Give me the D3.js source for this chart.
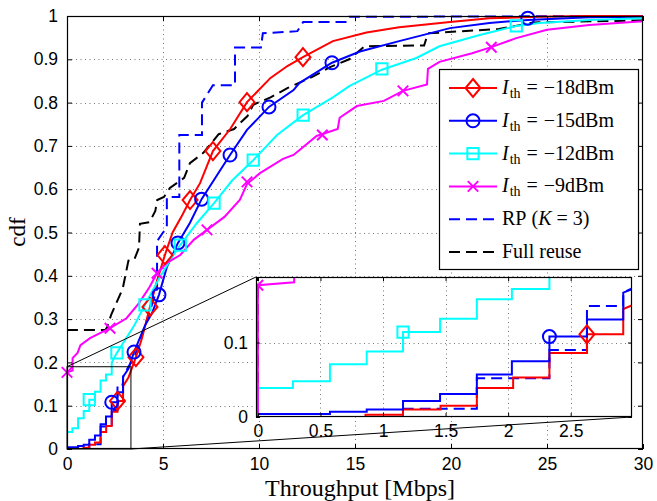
<!DOCTYPE html>
<html><head><meta charset="utf-8">
<script src="https://cdn.jsdelivr.net/npm/d3@7"></script>
<style>
body{margin:0;background:#fff}
text{fill:#000}
</style>
</head><body>
<svg id="c" width="657" height="501"></svg>
<script>
// ---------------- data ----------------
const xTicks = [0, 5, 10, 15, 20, 25, 30];
const xTickLabels = ["0", "5", "10", "15", "20", "25", "30"];
const yTicks = [0, 0.1, 0.2, 0.3, 0.4, 0.5, 0.6, 0.7, 0.8, 0.9, 1];
const yTickLabels = ["0", "0.1", "0.2", "0.3", "0.4", "0.5", "0.6", "0.7", "0.8", "0.9", "1"];
const insetXTicks = [0, 0.5, 1, 1.5, 2, 2.5];
const insetXTickLabels = ["0", "0.5", "1", "1.5", "2", "2.5"];
const insetYTicks = [0, 0.1];
const insetYTickLabels = ["0", "0.1"];
const zoomBoxX = [0, 3.33];
const zoomBoxY = [0, 0.19];

// Ith = -18 dBm
const thrRed = [0,0.86,0.86,1.16,1.16,1.46,1.46,1.75,1.75,2.04,2.04,2.33,2.33,2.63,2.63,2.92,2.92,3.2,3.59,3.9,4.32,4.7,5.1,5.5,6.0,6.41,6.93,7.6,8.5,9.375,9.9,10.6,11.5,12.29,13.85,15.6,17.3,19.95,22,24.6,27,30];
const cdfRed = [0,0,0.003,0.003,0.010,0.010,0.015,0.015,0.039,0.039,0.053,0.053,0.086,0.086,0.111,0.111,0.145,0.165,0.212,0.255,0.328,0.39,0.448,0.50,0.54,0.575,0.614,0.688,0.739,0.801,0.825,0.857,0.885,0.905,0.942,0.962,0.974,0.986,0.995,0.998,1,1];
const mkRedX = [2.63, 3.59, 4.32, 5.10, 6.41, 7.60, 9.375, 12.29];
const mkRedY = [0.111, 0.212, 0.328, 0.448, 0.575, 0.688, 0.801, 0.905];

// Ith = -15 dBm
const thrBlue = [0,0,0.576,0.576,0.87,0.87,1.16,1.16,1.456,1.456,1.75,1.75,2.03,2.03,2.33,2.33,2.63,2.63,2.92,2.92,3.2,3.49,4.06,4.43,4.79,5.2,5.78,6.4,7.01,8.49,9.375,10.52,11.8,12.1,13.8,15.26,17.3,19.95,22,24,27.2,30];
const cdfBlue = [0,0.004,0.004,0.007,0.007,0.010,0.010,0.0215,0.0215,0.031,0.031,0.057,0.057,0.075,0.075,0.108,0.108,0.131,0.131,0.167,0.185,0.224,0.285,0.314,0.356,0.42,0.476,0.522,0.577,0.679,0.737,0.79,0.829,0.845,0.892,0.918,0.942,0.972,0.984,0.991,0.997,0.998];
const mkBlueX = [2.33, 3.49, 4.79, 5.78, 7.01, 8.49, 10.52, 13.8, 24.0];
const mkBlueY = [0.108, 0.224, 0.356, 0.476, 0.577, 0.679, 0.790, 0.892, 0.995];

// Ith = -12 dBm
const thrCyan = [0,0,0.28,0.28,0.576,0.576,0.87,0.87,1.16,1.16,1.456,1.456,1.75,1.75,2.03,2.03,2.33,2.33,2.6,3.0,3.5,4.06,4.84,5.5,5.9,6.77,7.66,8.6,9.7,10.94,12.3,13.85,14.7,16.4,18.2,19.4,21.5,23.4,24.6,27.2,30];
const cdfCyan = [0,0.039,0.039,0.048,0.048,0.071,0.071,0.088,0.088,0.114,0.114,0.132,0.132,0.158,0.158,0.172,0.172,0.2,0.222,0.25,0.285,0.333,0.397,0.445,0.471,0.522,0.568,0.62,0.667,0.725,0.771,0.812,0.838,0.876,0.903,0.93,0.956,0.977,0.984,0.991,0.995];
const mkCyanX = [1.16, 2.6, 4.06, 5.9, 7.66, 9.7, 12.3, 16.4, 23.4];
const mkCyanY = [0.114, 0.222, 0.333, 0.471, 0.568, 0.667, 0.771, 0.878, 0.977];

// Ith = -9 dBm
const thrMag = [0,0,0.29,0.29,0.55,0.7,1.2,2.24,3.1,3.75,4.3,4.69,5.2,5.9,6.6,7.29,8.2,9.0,9.375,10.05,11.25,11.8,13.0,14.1,14.2,15.1,16.5,17.5,18.75,18.8,19.4,21.1,22.1,23.4,25,27.2,30];
const cdfMag = [0,0.177,0.181,0.21,0.222,0.24,0.256,0.279,0.302,0.337,0.374,0.406,0.43,0.448,0.483,0.506,0.536,0.575,0.612,0.637,0.67,0.679,0.723,0.739,0.765,0.792,0.804,0.827,0.842,0.878,0.894,0.914,0.928,0.949,0.968,0.979,0.988];
const mkMagX = [0, 2.24, 4.69, 7.29, 9.375, 13.3, 17.5, 22.1];
const mkMagY = [0.177, 0.279, 0.406, 0.506, 0.617, 0.725, 0.827, 0.928];

// RP (K = 3)
const thrRP = [0,1.16,1.16,1.75,1.75,2.33,2.33,2.63,2.63,2.92,2.92,3.2,3.5,3.8,4.1,4.4,4.69,4.69,5.0,5.2,5.2,5.85,5.85,7.03,7.03,7.6,8.75,8.75,10.1,10.2,12.0,12.3,14.6,14.7,30];
const cdfRP = [0,0,0.011,0.011,0.052,0.052,0.090,0.090,0.149,0.149,0.167,0.19,0.21,0.25,0.29,0.33,0.37,0.48,0.50,0.51,0.582,0.582,0.725,0.725,0.80,0.84,0.84,0.927,0.927,0.96,0.965,0.986,0.986,0.998,1];

// Full reuse
const thrFull = [0,0,2.0,2.1,2.3,2.9,3.2,3.5,3.75,3.8,4.3,4.6,4.7,5.05,5.36,6.1,6.4,7.1,7.9,8.7,9.4,9.7,10.6,11.5,12.8,13.7,14.7,15.5,18.6,18.8,22.5,24.3,30];
const cdfFull = [0,0.275,0.275,0.282,0.31,0.37,0.435,0.437,0.465,0.52,0.524,0.55,0.575,0.582,0.603,0.626,0.66,0.684,0.727,0.739,0.769,0.795,0.812,0.834,0.86,0.882,0.90,0.93,0.932,0.96,0.97,0.985,0.99];

const seriesLabels = ["−18dBm", "−15dBm", "−12dBm", "−9dBm", "RP", "Full reuse"];

// ---------------- build ----------------
const series = [
  {x: thrRed,  y: cdfRed,  mx: mkRedX,  my: mkRedY,  color: "#ff0000", marker: "diamond", dash: null, label: seriesLabels[0]},
  {x: thrBlue, y: cdfBlue, mx: mkBlueX, my: mkBlueY, color: "#0000ff", marker: "circle",  dash: null, label: seriesLabels[1]},
  {x: thrCyan, y: cdfCyan, mx: mkCyanX, my: mkCyanY, color: "#00ffff", marker: "square",  dash: null, label: seriesLabels[2]},
  {x: thrMag,  y: cdfMag,  mx: mkMagX,  my: mkMagY,  color: "#ff00ff", marker: "x",       dash: null, label: seriesLabels[3]},
  {x: thrRP,   y: cdfRP,   mx: [], my: [], color: "#0000ff", marker: null, dash: "11,6", label: seriesLabels[4]},
  {x: thrFull, y: cdfFull, mx: [], my: [], color: "#000000", marker: null, dash: "11,6", label: seriesLabels[5]}
];
const drawOrder = [5, 4, 0, 1, 2, 3];

const svg = d3.select("#c");
const L = 67, R = 643, T = 16, B = 449;
const x = d3.scaleLinear([0, 30], [L, R]);
const y = d3.scaleLinear([0, 1], [B, T]);

const defs = svg.append("defs");
defs.append("clipPath").attr("id", "clipMain").append("rect")
  .attr("x", L).attr("y", T - 2).attr("width", R - L).attr("height", B - T + 2);

const IL = 256, IR = 632, IT = 277, IB = 417;
const xi = d3.scaleLinear([-0.015, 2.99], [IL, IR]);
const yi = d3.scaleLinear([0, 0.188], [IB, IT]);
defs.append("clipPath").attr("id", "clipInset").append("rect")
  .attr("x", IL).attr("y", IT).attr("width", IR - IL).attr("height", IB - IT);

function markerPath(type, s) {
  if (type === "diamond") return `M0,${-s*1.2}L${s},0L0,${s*1.2}L${-s},0Z`;
  if (type === "square") return `M${-s*0.75},${-s*0.75}H${s*0.75}V${s*0.75}H${-s*0.75}Z`;
  if (type === "x") return `M${-s*0.7},${-s*0.7}L${s*0.7},${s*0.7}M${-s*0.7},${s*0.7}L${s*0.7},${-s*0.7}`;
  return null;
}
function drawMarker(g, type, cx, cy, color) {
  if (type === "circle") {
    g.append("circle").attr("cx", cx).attr("cy", cy).attr("r", 6.5)
      .attr("fill", "none").attr("stroke", color).attr("stroke-width", 2);
  } else {
    g.append("path").attr("d", markerPath(type, 7.5)).attr("transform", `translate(${cx},${cy})`)
      .attr("fill", "none").attr("stroke", color).attr("stroke-width", 2);
  }
}

function grid(g, xs, ys, xt, yt, left, right, top, bottom) {
  const gg = g.append("g").attr("stroke", "#777").attr("stroke-width", 1).attr("stroke-dasharray", "1,3.5");
  xt.forEach(v => { const px = Math.round(xs(v)) + 0.5; if (px > left + 1 && px < right - 1)
    gg.append("line").attr("x1", px).attr("x2", px).attr("y1", top).attr("y2", bottom); });
  yt.forEach(v => { const py = Math.round(ys(v)) + 0.5; if (py > top + 1 && py < bottom - 1)
    gg.append("line").attr("y1", py).attr("y2", py).attr("x1", left).attr("x2", right); });
}

// ---------- main plot ----------
grid(svg, x, y, xTicks, yTicks, L, R, T, B);

const line = (xs, ys) => d3.line().x(d => xs(d[0])).y(d => ys(d[1])).curve(d3.curveLinear);

const main = svg.append("g").attr("clip-path", "url(#clipMain)");
drawOrder.forEach(i => {
  const s = series[i];
  const pts = s.x.map((v, k) => [v, s.y[k]]);
  main.append("path").attr("d", line(x, y)(pts)).attr("fill", "none")
    .attr("stroke", s.color).attr("stroke-width", 2)
    .attr("stroke-dasharray", s.dash).attr("stroke-linejoin", "miter");
});
const mainMk = svg.append("g");
drawOrder.forEach(i => {
  const s = series[i];
  s.mx.forEach((v, k) => drawMarker(mainMk, s.marker, x(v), y(s.my[k]), s.color));
});

// axes (ticks inward on all sides)
const axB = d3.axisBottom(x).tickValues(xTicks).tickFormat((d, k) => xTickLabels[k]).tickSizeInner(-5).tickSizeOuter(0).tickPadding(9);
const axT = d3.axisTop(x).tickValues(xTicks).tickFormat("").tickSizeInner(-5).tickSizeOuter(0);
const axL = d3.axisLeft(y).tickValues(yTicks).tickFormat((d, k) => yTickLabels[k]).tickSizeInner(-5).tickSizeOuter(0).tickPadding(9);
const axR = d3.axisRight(y).tickValues(yTicks).tickFormat("").tickSizeInner(-5).tickSizeOuter(0);
function styleAxis(g) {
  g.select(".domain").remove();
  g.selectAll("line").attr("stroke", "#000");
  g.selectAll("text").attr("font-family", "'Liberation Sans', Arial, sans-serif").attr("font-size", 17.5).attr("fill", "#000");
}
svg.append("g").attr("transform", `translate(0,${B})`).call(axB).call(styleAxis);
svg.append("g").attr("transform", `translate(0,${T})`).call(axT).call(styleAxis);
svg.append("g").attr("transform", `translate(${L},0)`).call(axL).call(styleAxis);
svg.append("g").attr("transform", `translate(${R},0)`).call(axR).call(styleAxis);
svg.append("rect").attr("x", L + 0.5).attr("y", T + 0.5).attr("width", R - L - 1).attr("height", B - T - 1)
  .attr("fill", "none").attr("stroke", "#000").attr("stroke-width", 1.2);

// zoom box + connectors
svg.append("rect").attr("x", x(zoomBoxX[0])).attr("y", y(zoomBoxY[1]))
  .attr("width", x(zoomBoxX[1]) - x(zoomBoxX[0])).attr("height", y(zoomBoxY[0]) - y(zoomBoxY[1]))
  .attr("fill", "none").attr("stroke", "#000").attr("stroke-width", 1);
svg.append("line").attr("x1", x(zoomBoxX[0])).attr("y1", y(zoomBoxY[1])).attr("x2", IL).attr("y2", IT)
  .attr("stroke", "#000").attr("stroke-width", 1);
svg.append("line").attr("x1", x(zoomBoxX[1])).attr("y1", y(zoomBoxY[0])).attr("x2", IR).attr("y2", IB)
  .attr("stroke", "#000").attr("stroke-width", 1);

// ---------- inset ----------
const ins = svg.append("g");
ins.append("rect").attr("x", IL).attr("y", IT).attr("width", IR - IL).attr("height", IB - IT).attr("fill", "#fff");
grid(ins, xi, yi, insetXTicks, insetYTicks, IL, IR, IT, IB);
const insC = ins.append("g").attr("clip-path", "url(#clipInset)");
drawOrder.forEach(i => {
  const s = series[i];
  const pts = s.x.map((v, k) => [v, s.y[k]]);
  insC.append("path").attr("d", line(xi, yi)(pts)).attr("fill", "none")
    .attr("stroke", s.color).attr("stroke-width", 2)
    .attr("stroke-dasharray", s.dash);
});
const insMk = ins.append("g").attr("clip-path", "url(#clipInset)");
drawOrder.forEach(i => {
  const s = series[i];
  s.mx.forEach((v, k) => { if (v <= 3 && s.my[k] <= 0.19) drawMarker(insMk, s.marker, xi(v), yi(s.my[k]), s.color); });
});
const iB = d3.axisBottom(xi).tickValues(insetXTicks).tickFormat((d, k) => insetXTickLabels[k]).tickSizeInner(-4).tickSizeOuter(0).tickPadding(8);
const iL = d3.axisLeft(yi).tickValues(insetYTicks).tickFormat((d, k) => insetYTickLabels[k]).tickSizeInner(-4).tickSizeOuter(0).tickPadding(8);
const iT = d3.axisTop(xi).tickValues(insetXTicks).tickFormat("").tickSizeInner(-4).tickSizeOuter(0);
const iR = d3.axisRight(yi).tickValues(insetYTicks).tickFormat("").tickSizeInner(-4).tickSizeOuter(0);
ins.append("g").attr("transform", `translate(0,${IB})`).call(iB).call(styleAxis);
ins.append("g").attr("transform", `translate(${IL},0)`).call(iL).call(styleAxis);
ins.append("g").attr("transform", `translate(0,${IT})`).call(iT).call(styleAxis);
ins.append("g").attr("transform", `translate(${IR},0)`).call(iR).call(styleAxis);
ins.append("rect").attr("x", IL + 0.5).attr("y", IT + 0.5).attr("width", IR - IL - 1).attr("height", IB - IT - 1)
  .attr("fill", "none").attr("stroke", "#000").attr("stroke-width", 1.2);

// ---------- axis titles ----------
const serif = "'Liberation Serif', 'Times New Roman', serif";
svg.append("text").attr("x", 360).attr("y", 496).attr("text-anchor", "middle")
  .attr("font-family", serif).attr("font-size", 24).text("Throughput [Mbps]");
svg.append("text").attr("transform", "translate(25,232) rotate(-90)").attr("text-anchor", "middle")
  .attr("font-family", serif).attr("font-size", 23).text("cdf");

// ---------- legend ----------
const LG = {x: 439, y: 69, w: 199, h: 200};
const leg = svg.append("g");
leg.append("rect").attr("x", LG.x + 0.5).attr("y", LG.y + 0.5).attr("width", LG.w).attr("height", LG.h)
  .attr("fill", "#fff").attr("stroke", "#000").attr("stroke-width", 1.2);
series.forEach((s, i) => {
  const cy = 88 + i * 32.8;
  leg.append("line").attr("x1", 449).attr("x2", 497).attr("y1", cy).attr("y2", cy)
    .attr("stroke", s.color).attr("stroke-width", 2).attr("stroke-dasharray", s.dash);
  if (s.marker) drawMarker(leg, s.marker, 473, cy, s.color);
  const t = leg.append("text").attr("x", 502).attr("y", cy + 6).attr("font-family", serif).attr("font-size", 20);
  if (i < 4) {
    t.append("tspan").attr("font-style", "italic").text("I");
    t.append("tspan").attr("font-size", 14).attr("dy", 4).attr("dx", 1).text("th");
    t.append("tspan").attr("dy", -4).attr("dx", 6).text("=");
    t.append("tspan").attr("dx", 6).text(s.label);
  } else if (i === 4) {
    t.append("tspan").text("RP");
    t.append("tspan").attr("dx", 5).text("(");
    t.append("tspan").attr("font-style", "italic").text("K");
    t.append("tspan").attr("dx", 5).text("=");
    t.append("tspan").attr("dx", 5).text("3)");
  } else {
    t.text(s.label);
  }
});
</script>
</body></html>
